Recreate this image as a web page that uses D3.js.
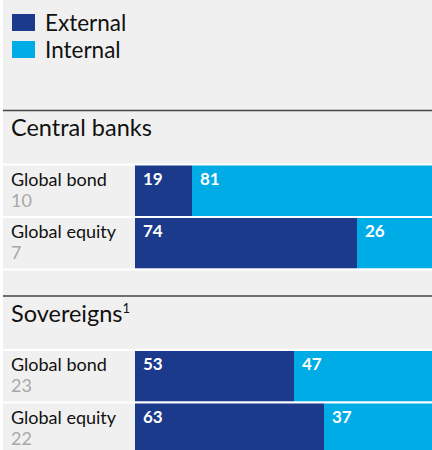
<!DOCTYPE html>
<html>
<head>
<meta charset="utf-8">
<script src="https://cdn.jsdelivr.net/npm/d3@7"></script>
<style>
  body { margin: 0; background: #fff; }
  svg { display: block; font-family: Lato, "Noto Sans", sans-serif; }
</style>
</head>
<body>
<div id="chart"></div>
<script>
// data
const sections = ['Central banks', 'Sovereigns'];
const sectionNotes = ['', '1'];
const rowNames = ['Global bond', 'Global equity'];
const rowCounts = [[10, 7], [23, 22]];
const external = [[19, 74], [53, 63]];
const internal = [[81, 26], [47, 37]];
const seriesNames = ['External', 'Internal'];

const colors = ['#1b3a8b', '#00ace6'];

const w = 432;
const h = 450;

const svg = d3.select('#chart')
  .append('svg')
  .attr('width', w)
  .attr('height', h);

// grey panel
svg.append('rect')
  .attr('x', 3).attr('y', 0)
  .attr('width', w - 3).attr('height', h)
  .attr('fill', '#f0f0f0');

// legend
const legend = svg.selectAll('.legend')
  .data(seriesNames)
  .enter()
  .append('g')
  .attr('class', 'legend')
  .attr('transform', (d, i) => `translate(12, ${14 + i * 27})`);

legend.append('rect')
  .attr('width', 23).attr('height', 17)
  .attr('fill', (d, i) => colors[i]);

legend.append('text')
  .attr('x', 33).attr('y', 16.5)
  .attr('font-size', 22.5)
  .attr('fill', '#111')
  .text(d => d);

// scales (bars run slightly past the right edge: 3px per point)
const xScale = d3.scaleLinear().domain([0, 100]).range([135, 435]);
const sectionY = d3.scaleLinear().domain([0, 1]).range([110, 295.5]);
const rowY = d3.scaleBand().domain([0, 1]).range([53.5, 158.5]).paddingInner(0);

sections.forEach((name, s) => {
  const g = svg.append('g').attr('transform', `translate(0, ${sectionY(s)})`);

  g.append('line')
    .attr('x1', 3).attr('x2', w)
    .attr('y1', 0.5).attr('y2', 0.5)
    .attr('stroke', '#444')
    .attr('stroke-width', 1.6);

  const title = g.append('text')
    .attr('x', 11).attr('y', 26)
    .attr('font-size', 23.5)
    .attr('fill', '#111')
    .text(name);
  if (sectionNotes[s]) {
    title.append('tspan')
      .attr('font-size', 13)
      .attr('dy', -9)
      .text(sectionNotes[s]);
  }

  rowNames.forEach((r, i) => {
    const y0 = rowY(i);
    const bh = rowY.bandwidth();

    // white separators
    g.append('rect')
      .attr('x', 3).attr('y', y0)
      .attr('width', w - 3).attr('height', 2)
      .attr('fill', '#fff');

    const ext = external[s][i];
    const int = internal[s][i];
    const segs = [[0, ext], [ext, ext + int]];

    g.selectAll(null)
      .data(segs)
      .enter()
      .append('rect')
      .attr('x', d => xScale(d[0]))
      .attr('y', y0 + 2)
      .attr('width', d => xScale(d[1]) - xScale(d[0]))
      .attr('height', bh - 2)
      .attr('fill', (d, k) => colors[k]);

    g.selectAll(null)
      .data(segs)
      .enter()
      .append('text')
      .attr('x', d => xScale(d[0]) + 8)
      .attr('y', y0 + 21)
      .attr('font-size', 17)
      .attr('font-weight', 'bold')
      .attr('fill', '#fff')
      .text(d => d[1] - d[0]);

    g.append('text')
      .attr('x', 11).attr('y', y0 + 22)
      .attr('font-size', 18)
      .attr('fill', '#111')
      .text(r);

    g.append('text')
      .attr('x', 11).attr('y', y0 + 43)
      .attr('font-size', 18)
      .attr('fill', '#a8a8a8')
      .text(rowCounts[s][i]);
  });

  // closing separator
  g.append('rect')
    .attr('x', 3).attr('y', rowY.range()[1])
    .attr('width', w - 3).attr('height', 2)
    .attr('fill', '#fff');
});
</script>
</body>
</html>
